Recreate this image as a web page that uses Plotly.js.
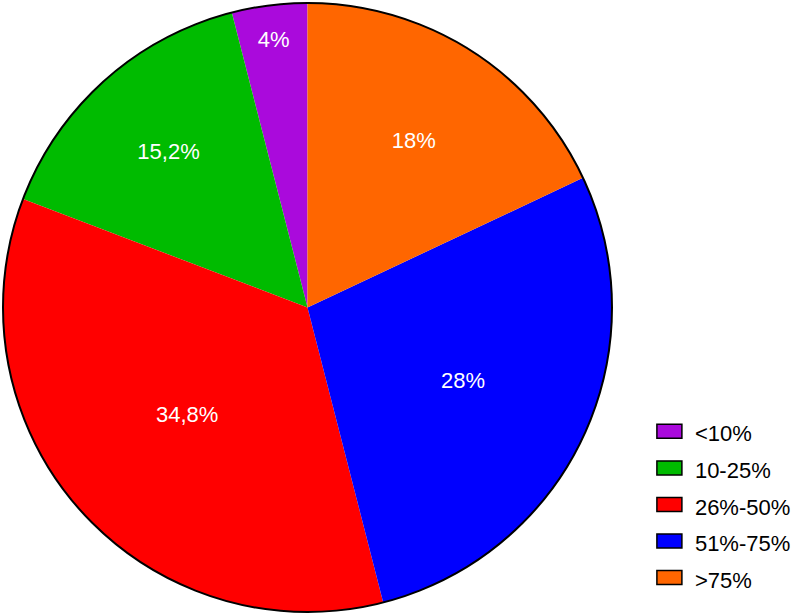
<!DOCTYPE html>
<html>
<head>
<meta charset="utf-8">
<script src="https://cdn.plot.ly/plotly-3.0.1.min.js"></script>
<style>html,body{margin:0;padding:0;background:#fff;}</style>
</head>
<body>
<div id="chart" style="width:792px;height:616px;"></div>
<script>
var categories = ["<10%", "10-25%", "26%-50%", "51%-75%", ">75%"];
var values = [4, 15.2, 34.8, 28, 18];
var colors = ["#AA0ADC", "#00BB00", "#FF0000", "#0000FF", "#FF6600"];
var textLabels = values.map(function (v) { return String(v).replace(".", ",") + "%"; });
var total = values.reduce(function (a, b) { return a + b; }, 0);

var trace = {
  type: "pie",
  labels: categories.map(function (c) { return '<span style="font-size:22px">' + c + '</span>'; }),
  values: values,
  text: textLabels,
  textinfo: "text",
  hoverinfo: "label+text",
  textposition: "inside",
  insidetextorientation: "horizontal",
  insidetextfont: {family: "Liberation Sans, Arial, sans-serif", size: 22, color: "#ffffff"},
  marker: {colors: colors, line: {width: 0}},
  sort: false,
  direction: "counterclockwise",
  rotation: -360 * values[0] / total,
  domain: {x: [0, 1], y: [0, 1]}
};

var layout = {
  width: 792,
  height: 616,
  margin: {l: 3, r: 180, t: 3, b: 4, autoexpand: false},
  paper_bgcolor: "#ffffff",
  showlegend: true,
  legend: {
    xref: "container", yref: "container",
    x: 0.813, y: 0.3375, xanchor: "left", yanchor: "top",
    font: {family: "Liberation Sans, Arial, sans-serif", size: 25.8, color: "#000000"},
    itemwidth: 41,
    bgcolor: "rgba(0,0,0,0)"
  },
  shapes: [{
    type: "circle", xref: "paper", yref: "paper",
    x0: 0, x1: 1, y0: 0, y1: 1,
    line: {color: "#000000", width: 2},
    fillcolor: "rgba(0,0,0,0)"
  }]
};

Plotly.newPlot("chart", [trace], layout, {displayModeBar: false, staticPlot: true}).then(function (gd) {
  var pts = gd.querySelectorAll(".legend .legendpoints path");
  pts.forEach(function (p) {
    p.setAttribute("d", "M12.5,7H-12.5V-7H12.5Z");
    p.style.stroke = "#000000";
    p.style.strokeWidth = "1.5px";
  });
});
</script>
</body>
</html>
